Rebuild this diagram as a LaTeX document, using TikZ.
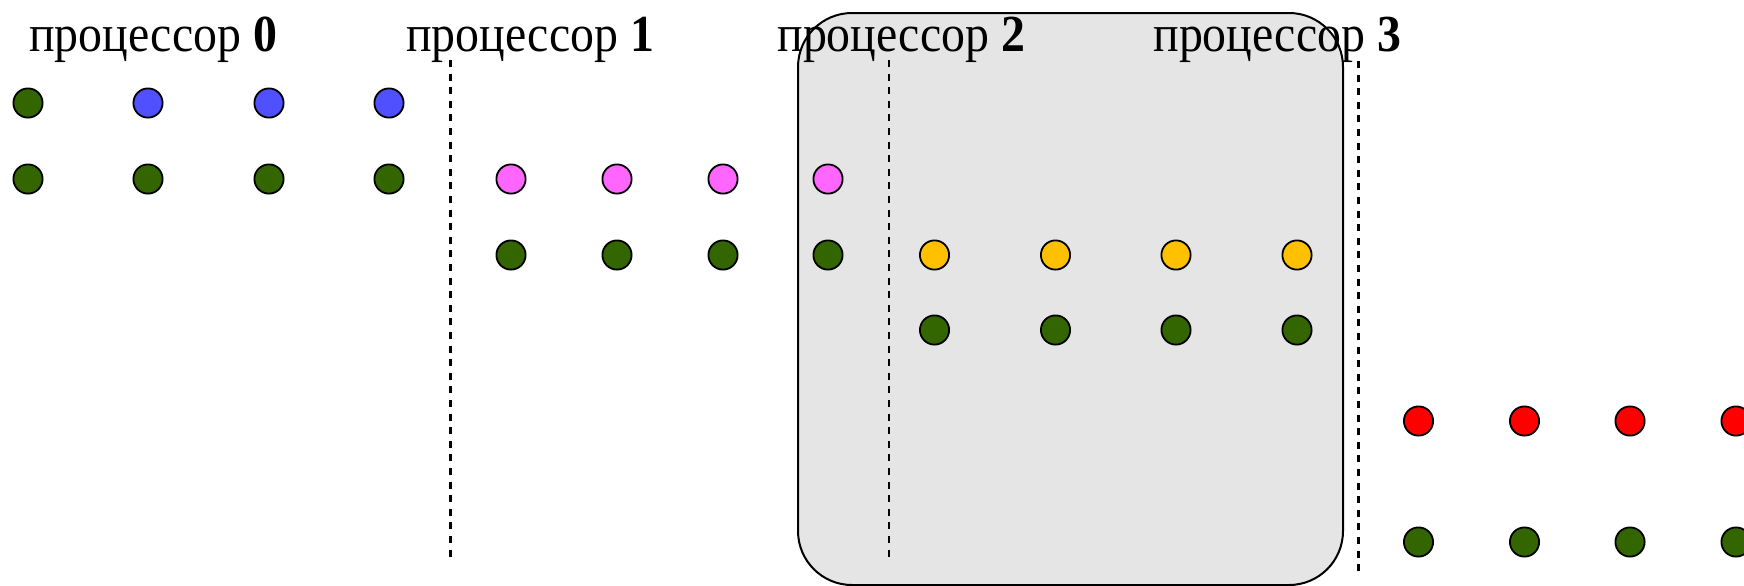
\documentclass[tikz,border=0pt]{standalone}
\usepackage{fontspec}
\setmainfont{Liberation Serif}
\usepackage{graphicx}
\definecolor{dgreen}{RGB}{51,102,0}
\definecolor{pblue}{RGB}{80,80,255}
\definecolor{ppink}{RGB}{255,102,255}
\definecolor{pyellow}{RGB}{255,192,0}
\definecolor{pred}{RGB}{255,0,0}
\definecolor{boxgray}{RGB}{229,229,229}
\tikzset{
  dot/.style={circle,draw=black,line width=0.9pt,minimum size=14.6pt,inner sep=0pt},
  gdot/.style={dot,fill=dgreen},
  bdot/.style={dot,fill=pblue},
  pdot/.style={dot,fill=ppink},
  ydot/.style={dot,fill=pyellow},
  rdot/.style={dot,fill=pred},
  divider/.style={line width=1.1pt,dash pattern=on 3.5pt off 3.3pt},
  proclabel/.style={anchor=base west,inner sep=0pt,font=\fontsize{26}{30}\selectfont},
  regionbox/.style={draw=black,line width=1pt,fill=boxgray,rounded corners=27pt}
}
\begin{document}
\begin{tikzpicture}[x=0.5pt,y=-0.5pt]
\useasboundingbox (0,0) rectangle (1744,585);
% shaded region
\draw[regionbox] (798,13) rectangle (1343,585);
% labels
\node[proclabel] (l0) at (29,51.5) {\scalebox{0.92}[1]{процессор \textbf{0}}};
\node[proclabel] (l1) at (406,51.5) {\scalebox{0.92}[1]{процессор \textbf{1}}};
\node[proclabel] (l2) at (777,51.5) {\scalebox{0.92}[1]{процессор \textbf{2}}};
\node[proclabel] (l3) at (1153,51.5) {\scalebox{0.92}[1]{процессор \textbf{3}}};
% dividers
\coordinate (d1t) at (450.5,60); \coordinate (d1b) at (450.5,557);
\coordinate (d2t) at (889,60);   \coordinate (d2b) at (889,557);
\coordinate (d3t) at (1358.5,61); \coordinate (d3b) at (1358.5,573);
\draw[divider] (d1t) -- (d1b);
\draw[divider] (d2t) -- (d2b);
\draw[divider] (d3t) -- (d3b);
% row 1
\node[gdot] (a1) at (28,103) {};
\node[bdot] (a2) at (148,103) {};
\node[bdot] (a3) at (269,103) {};
\node[bdot] (a4) at (389,103) {};
% row 2
\node[gdot] (b1) at (28,179) {};
\node[gdot] (b2) at (148,179) {};
\node[gdot] (b3) at (269,179) {};
\node[gdot] (b4) at (389,179) {};
\node[pdot] (b5) at (511,179) {};
\node[pdot] (b6) at (617,179) {};
\node[pdot] (b7) at (723,179) {};
\node[pdot] (b8) at (828,179) {};
% row 3
\node[gdot] (c1) at (511,255) {};
\node[gdot] (c2) at (617,255) {};
\node[gdot] (c3) at (723,255) {};
\node[gdot] (c4) at (828,255) {};
\node[ydot] (c5) at (934.5,255) {};
\node[ydot] (c6) at (1055.5,255) {};
\node[ydot] (c7) at (1176,255) {};
\node[ydot] (c8) at (1297,255) {};
% row 4
\node[gdot] (e1) at (934.5,330) {};
\node[gdot] (e2) at (1055.5,330) {};
\node[gdot] (e3) at (1176,330) {};
\node[gdot] (e4) at (1297,330) {};
% row 5
\node[rdot] (f1) at (1418.5,421) {};
\node[rdot] (f2) at (1524.5,421) {};
\node[rdot] (f3) at (1630,421) {};
\node[rdot] (f4) at (1736,421) {};
% row 6
\node[gdot] (g1) at (1418.5,542) {};
\node[gdot] (g2) at (1524.5,542) {};
\node[gdot] (g3) at (1630,542) {};
\node[gdot] (g4) at (1736,542) {};
\end{tikzpicture}
\end{document}
